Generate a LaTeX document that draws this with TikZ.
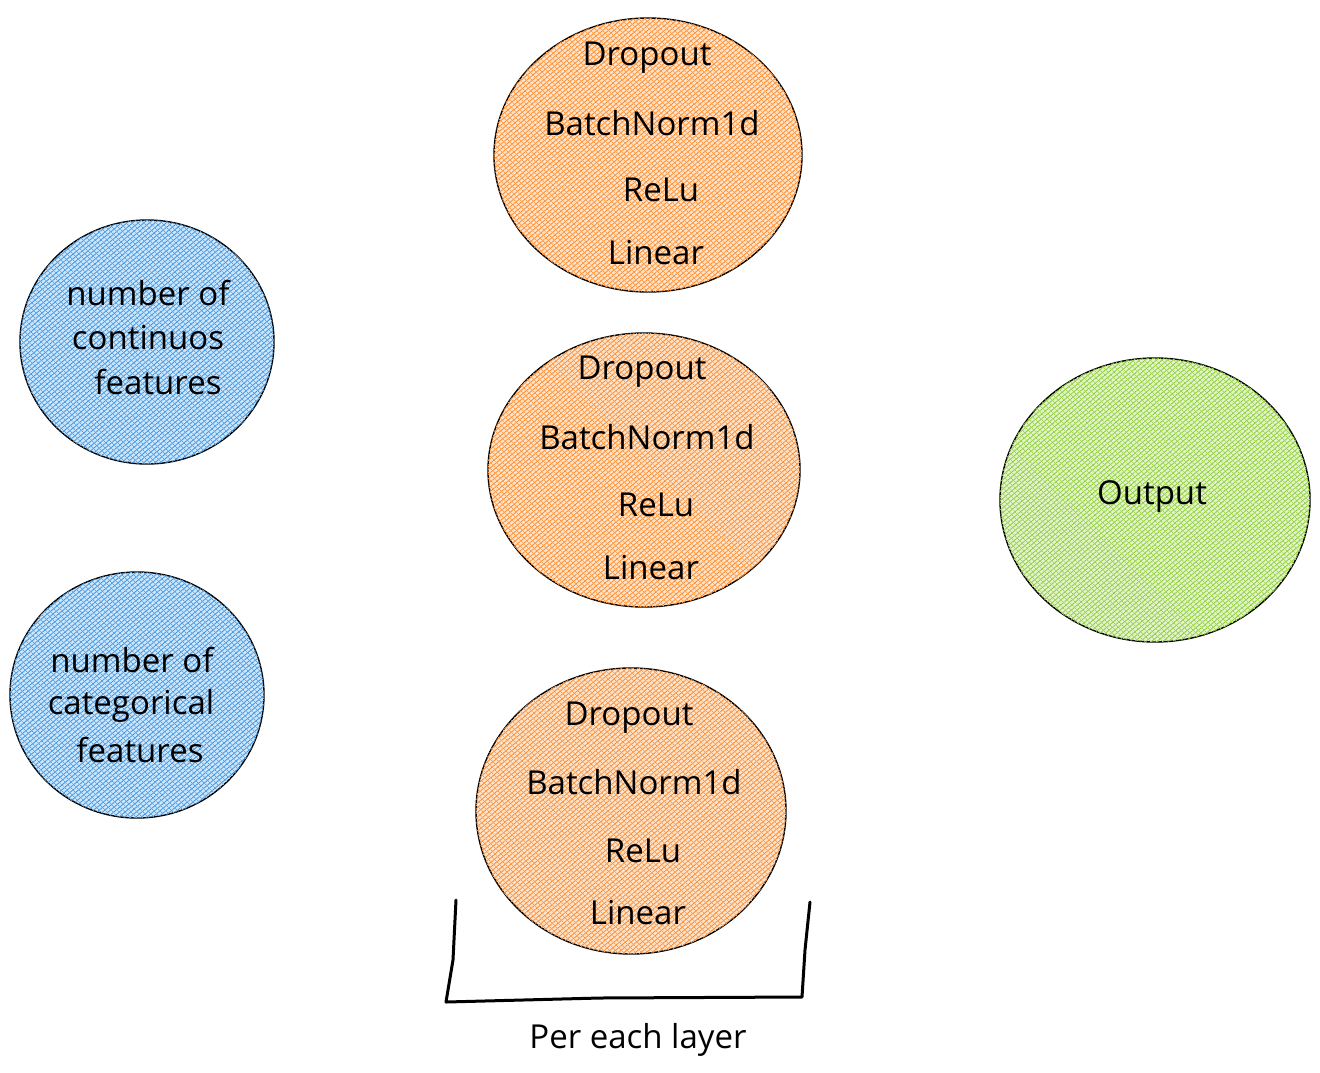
\documentclass[tikz,border=0pt]{standalone}
\usepackage{fontspec}
\setmainfont{Open Sans}
\usetikzlibrary{patterns.meta}
\definecolor{orangeL}{HTML}{FD7E14}
\definecolor{blueL}{HTML}{228BE6}
\definecolor{greenL}{HTML}{82C91E}
\tikzset{
  blob/.style={draw=black, line width=1.4pt, fill=#1!22!white,
    postaction={pattern={Lines[angle=40,distance=3.6pt,line width=0.8pt]}, pattern color=#1!90!white},
    postaction={pattern={Lines[angle=-45,distance=4pt,line width=0.7pt]}, pattern color=#1!75!white}},
  lbl/.style={font=\fontsize{33}{36}\selectfont, text=black, inner sep=0pt},
  brk/.style={line width=3pt, line cap=round, line join=round}
}
\begin{document}
\begin{tikzpicture}[x=1pt,y=-1pt]
\useasboundingbox (0,0) rectangle (1320,1072);
% ellipses
\draw[blob=orangeL] (648,155) ellipse [x radius=154, y radius=137];
\draw[blob=orangeL] (644,470) ellipse [x radius=156, y radius=137];
\draw[blob=orangeL] (631,811) ellipse [x radius=155, y radius=143];
\draw[blob=blueL] (147,342) ellipse [x radius=127, y radius=122];
\draw[blob=blueL] (137,695) ellipse [x radius=127, y radius=123];
\draw[blob=greenL] (1155,500) ellipse [x radius=155, y radius=142];
% text
\node[lbl] (t1) at (647,58) {Dropout};
\node[lbl] (t2) at (652,123) {BatchNorm1d};
\node[lbl] (t3) at (661,190) {ReLu};
\node[lbl] (t4) at (656,253) {Linear};
\node[lbl] (m1) at (642,372) {Dropout};
\node[lbl] (m2) at (647,437) {BatchNorm1d};
\node[lbl] (m3) at (656,505) {ReLu};
\node[lbl] (m4) at (651,568) {Linear};
\node[lbl] (b1) at (629,718) {Dropout};
\node[lbl] (b2) at (634,782) {BatchNorm1d};
\node[lbl] (b3) at (643,851) {ReLu};
\node[lbl] (b4) at (638,913) {Linear};
\node[lbl] (c1) at (148,293) {number of};
\node[lbl] (c2) at (148,338) {continuos};
\node[lbl] (c3) at (158,382) {features};
\node[lbl] (k1) at (132,660) {number of};
\node[lbl] (k2) at (131,706) {categorical};
\node[lbl] (k3) at (140,750) {features};
\node[lbl] (out) at (1152,496) {Output};
\node[lbl] (per) at (638,1040) {Per each layer};
% bracket
\coordinate (bl) at (456,900);
\coordinate (bll) at (446,1002);
\coordinate (brr) at (802,997);
\coordinate (br) at (810,902);
\draw[brk] (bl) -- (453,960) -- (bll) -- (600,998) -- (brr) -- (805,950) -- (br);
\end{tikzpicture}
\end{document}
